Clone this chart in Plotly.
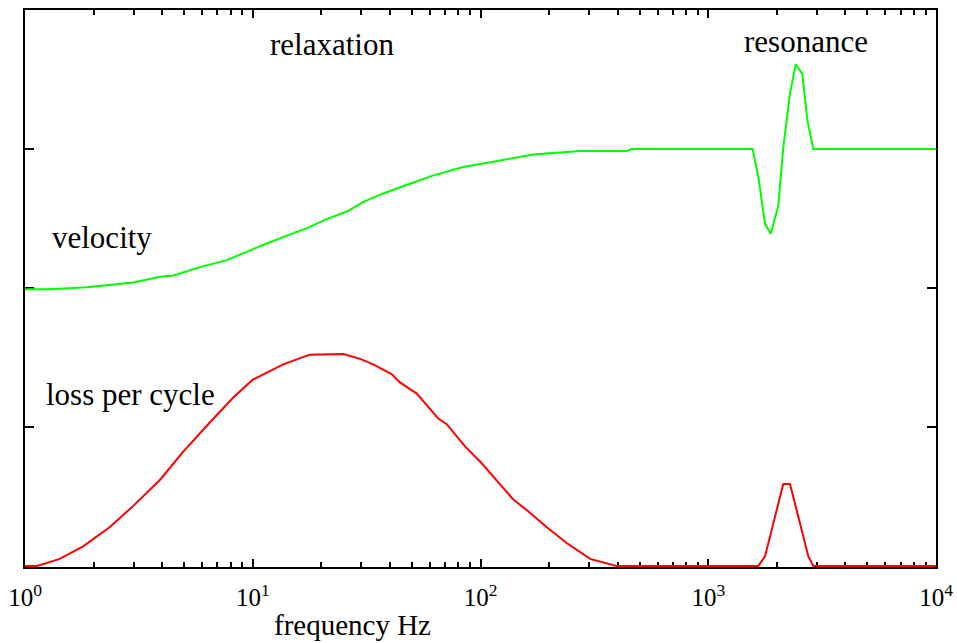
import plotly.graph_objects as go

# velocity curve (frequency in Hz, arbitrary units)
vel_freq = [1, 1.29, 1.87, 2.36, 2.99, 3.92, 4.48, 5.87, 7.69, 9.41,
            11.5, 14.6, 17.3, 21.1, 25.9, 30.6, 37.4, 49.0, 62.1, 84.1,
            110, 135, 171, 202, 274, 439, 461, 1567, 1659, 1776,
            1881, 2030, 2135, 2285, 2421, 2588, 2722, 2893, 10000]
vel_vals = [1.99, 1.99, 2.005, 2.02, 2.04, 2.08, 2.09, 2.15, 2.20, 2.26,
            2.32, 2.385, 2.43, 2.495, 2.55, 2.62, 2.68, 2.75, 2.81, 2.87,
            2.905, 2.93, 2.96, 2.97, 2.985, 2.985, 3.0, 3.0, 2.80, 2.46,
            2.39, 2.59, 3.01, 3.40, 3.61, 3.54, 3.21, 3.0, 3.0]

# loss per cycle curve
loss_freq = [1, 1.13, 1.42, 1.80, 2.36, 2.98, 3.92, 4.94, 6.30, 8.19,
             10.0, 13.6, 17.8, 25.0, 29.6, 33.8, 40.7, 44.3, 52.5, 56.1,
             65.3, 71.1, 76.0, 85.5, 101, 122, 139, 160, 195, 239,
             303, 396, 1659, 1776, 2135, 2285, 2750, 2893, 10000]
loss_vals = [0, 0, 0.05, 0.14, 0.28, 0.43, 0.62, 0.82, 1.01, 1.21,
             1.34, 1.45, 1.52, 1.525, 1.49, 1.45, 1.38, 1.32, 1.24, 1.185,
             1.06, 1.02, 0.96, 0.86, 0.74, 0.59, 0.48, 0.40, 0.28, 0.165,
             0.05, 0, 0, 0.07, 0.59, 0.59, 0.07, 0, 0]

x_tickvals = [1, 10, 100, 1000, 10000]
x_ticktext = ["10<sup>0</sup>", "10<sup>1</sup>", "10<sup>2</sup>",
              "10<sup>3</sup>", "10<sup>4</sup>"]
y_tickvals = [1, 2, 3]

FONT = "Liberation Serif"

fig = go.Figure()
fig.add_trace(go.Scatter(x=vel_freq, y=vel_vals, mode="lines",
                         line=dict(color="#00ff00", width=2), showlegend=False))
fig.add_trace(go.Scatter(x=loss_freq, y=loss_vals, mode="lines",
                         line=dict(color="#ff0000", width=2), showlegend=False))

fig.update_layout(
    width=957, height=643,
    margin=dict(l=25, r=21, t=10, b=76),
    paper_bgcolor="white", plot_bgcolor="white",
    font=dict(family=FONT, color="black"),
    xaxis=dict(
        type="log", range=[0, 4], automargin=False,
        showgrid=False, zeroline=False,
        showline=True, linecolor="black", linewidth=2, mirror="ticks",
        ticks="inside", ticklen=8, tickwidth=2, tickcolor="black",
        tickvals=x_tickvals, ticktext=x_ticktext,
        tickfont=dict(family=FONT, size=25, color="black"),
        ticklabelstandoff=7,
        minor=dict(ticks="inside", ticklen=5, tickwidth=2, tickcolor="black",
                   dtick="D1", showgrid=False),
        layer="below traces",
    ),
    yaxis=dict(
        range=[-0.008, 4], automargin=False,
        showgrid=False, zeroline=False,
        showline=True, linecolor="black", linewidth=2, mirror="ticks",
        ticks="inside", ticklen=9, tickwidth=2, tickcolor="black",
        tickvals=y_tickvals, showticklabels=False,
        layer="below traces",
    ),
)

ann_font = dict(family=FONT, size=31, color="black")
for xv, yv, txt in [(1.348, 3.75, "relaxation"), (3.429, 3.77, "resonance"),
                    (0.338, 2.36, "velocity"), (0.465, 1.23, "loss per cycle")]:
    fig.add_annotation(x=xv, y=yv, xref="x", yref="y", text=txt,
                       xanchor="center", yanchor="middle",
                       showarrow=False, font=ann_font)
fig.add_annotation(x=0.36, y=-0.104, xref="paper", yref="paper",
                   text="frequency Hz", showarrow=False,
                   xanchor="center", yanchor="middle",
                   font=dict(family=FONT, size=29, color="black"))

fig.write_html("out.html")
